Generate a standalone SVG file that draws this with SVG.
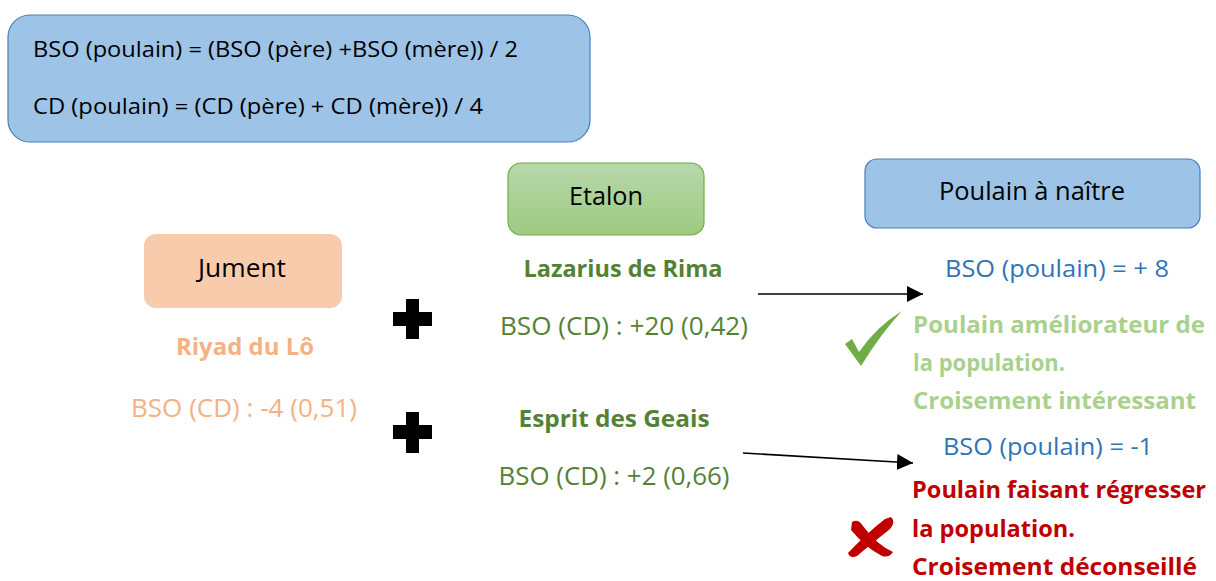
<svg xmlns="http://www.w3.org/2000/svg" width="1216" height="581" viewBox="0 0 1216 581">
<defs>
<linearGradient id="gGreen" x1="0" y1="0" x2="0" y2="1">
<stop offset="0" stop-color="#B8D8AA"/>
<stop offset="1" stop-color="#9DCA82"/>
</linearGradient>
<marker id="arr" markerUnits="userSpaceOnUse" markerWidth="18" markerHeight="18" refX="16" refY="8" orient="auto">
<path d="M0,0 L16,8 L0,16 Z" fill="#000"/>
</marker>
<style>
text{font-family:"Open Sans","Noto Sans","Liberation Sans",sans-serif;}
.blue{fill:#9DC3E6;stroke:#4A7EBB;stroke-width:1.2;}
.lbl{font-size:25px;fill:#000;text-anchor:middle;}
.f{font-size:21px;fill:#000;}
.b{font-weight:bold;}
.peach{fill:#F4B183;}
.green{fill:#548235;}
.bl{fill:#2E75B6;}
.lg{fill:#A9D18E;}
.red{fill:#C00000;}
.conn{stroke:#000;stroke-width:1.6;fill:none;}
</style>
</defs>
<g id="formula">
<rect class="blue" x="8" y="15" width="582" height="127" rx="22"/>
<text class="f" x="33" y="57" textLength="485" lengthAdjust="spacingAndGlyphs">BSO (poulain) = (BSO (père) +BSO (mère)) / 2</text>
<text class="f" x="33" y="114" textLength="450" lengthAdjust="spacingAndGlyphs">CD (poulain) = (CD (père) + CD (mère)) / 4</text>
</g>
<g id="etalon">
<rect x="508" y="163" width="196" height="72" rx="13" fill="url(#gGreen)" stroke="#70AD47" stroke-width="1.2"/>
<text class="lbl" x="606" y="205" textLength="74" lengthAdjust="spacingAndGlyphs">Etalon</text>
</g>
<g id="poulain">
<rect class="blue" x="865" y="159" width="335" height="69" rx="12"/>
<text class="lbl" x="1032" y="200" textLength="186" lengthAdjust="spacingAndGlyphs">Poulain à naître</text>
</g>
<g id="jument">
<rect x="144" y="234" width="198" height="74" rx="12" fill="#F8CBAD"/>
<text class="lbl" x="242" y="277" textLength="88" lengthAdjust="spacingAndGlyphs">Jument</text>
</g>
<g id="jument-info">
<text class="b peach" x="245" y="355" font-size="24" text-anchor="middle" textLength="138" lengthAdjust="spacingAndGlyphs">Riyad du Lô</text>
<text class="peach" x="244" y="417" font-size="25" text-anchor="middle" textLength="226" lengthAdjust="spacingAndGlyphs">BSO (CD) : -4 (0,51)</text>
</g>
<g id="etalon1">
<text class="b green" x="623" y="277" font-size="24" text-anchor="middle" textLength="199" lengthAdjust="spacingAndGlyphs">Lazarius de Rima</text>
<text class="green" x="624" y="335" font-size="25" text-anchor="middle" textLength="248" lengthAdjust="spacingAndGlyphs">BSO (CD) : +20 (0,42)</text>
</g>
<g id="etalon2">
<text class="b green" x="614" y="427" font-size="24" text-anchor="middle" textLength="191" lengthAdjust="spacingAndGlyphs">Esprit des Geais</text>
<text class="green" x="614" y="485" font-size="25" text-anchor="middle" textLength="231" lengthAdjust="spacingAndGlyphs">BSO (CD) : +2 (0,66)</text>
</g>
<g id="plus1">
<path d="M406,299 H419 V312 H432 V326 H419 V339 H406 V326 H393 V312 H406 Z" fill="#000"/>
</g>
<g id="plus2">
<path d="M406,412 H419 V425 H432 V439 H419 V453 H406 V439 H393 V425 H406 Z" fill="#000"/>
</g>
<g id="result1">
<text class="bl" x="945" y="277" font-size="24" textLength="224" lengthAdjust="spacingAndGlyphs">BSO (poulain) = + 8</text>
<path d="M845,344 L852,339 L859,352 Q876,327 902,311 Q882,332 861,366 Z" fill="#70AD47"/>
<text class="b lg" x="913" y="333" font-size="24" textLength="292" lengthAdjust="spacingAndGlyphs">Poulain améliorateur de</text>
<text class="b lg" x="913" y="371" font-size="24" textLength="152" lengthAdjust="spacingAndGlyphs">la population.</text>
<text class="b lg" x="913" y="409" font-size="24" textLength="283" lengthAdjust="spacingAndGlyphs">Croisement intéressant</text>
</g>
<g id="result2">
<text class="bl" x="943" y="455" font-size="24" textLength="210" lengthAdjust="spacingAndGlyphs">BSO (poulain) = -1</text>
<path d="M852,522 Q858,518 863,526 Q877,545 893,552 Q889,558 882,556 Q866,548 851,530 Z" fill="#C00000"/>
<path d="M891,517 Q896,522 890,529 Q870,545 857,556 Q850,559 848,553 Q868,532 885,519 Z" fill="#C00000"/>
<text class="b red" x="912" y="498" font-size="23" textLength="294" lengthAdjust="spacingAndGlyphs">Poulain faisant régresser</text>
<text class="b red" x="912" y="537" font-size="24" textLength="163" lengthAdjust="spacingAndGlyphs">la population.</text>
<text class="b red" x="912" y="575" font-size="24" textLength="285" lengthAdjust="spacingAndGlyphs">Croisement déconseillé</text>
</g>
<g id="connectors">
<line class="conn" x1="758" y1="294" x2="923" y2="294" marker-end="url(#arr)"/>
<line class="conn" x1="743" y1="453" x2="913" y2="463" marker-end="url(#arr)"/>
</g>
</svg>
